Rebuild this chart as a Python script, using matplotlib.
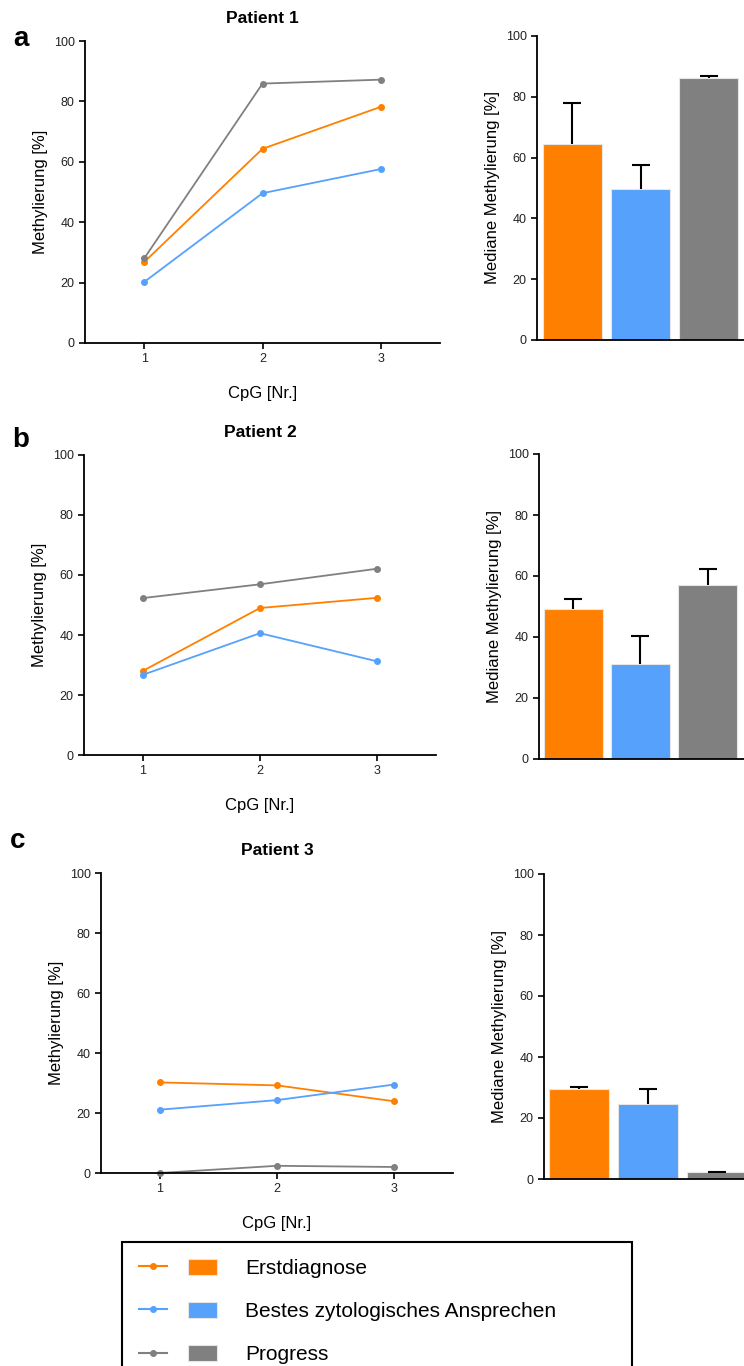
import matplotlib
matplotlib.use("Agg")
import matplotlib.pyplot as plt
from matplotlib.lines import Line2D
from matplotlib.patches import Patch
from matplotlib.legend_handler import HandlerTuple

plt.rcParams['font.family'] = ['Liberation Sans', 'DejaVu Sans']

cpg = [1, 2, 3]
groups = ["Erstdiagnose", "Bestes zytologisches Ansprechen", "Progress"]
colors = ["#FF8000", "#55A1FC", "#808080"]

# CpG-Methylierung [%] je Patient und Zeitpunkt
p1_erst = [26.8, 64.3, 78.2]
p1_best = [20.2, 49.6, 57.6]
p1_prog = [28.0, 85.9, 87.2]
p2_erst = [28.0, 49.0, 52.4]
p2_best = [26.7, 40.6, 31.2]
p2_prog = [52.3, 56.9, 62.1]
p3_erst = [30.2, 29.2, 23.9]
p3_best = [21.1, 24.3, 29.5]
p3_prog = [0.0, 2.4, 2.0]

# Mediane Methylierung und obere Fehlerbalken
p1_median = [64.4, 49.6, 86.1]
p1_upper = [78.1, 57.5, 87.0]
p2_median = [49.2, 31.3, 57.0]
p2_upper = [52.5, 40.4, 62.2]
p3_median = [29.5, 24.6, 2.2]
p3_upper = [30.2, 29.6, 2.4]

titles = ["Patient 1", "Patient 2", "Patient 3"]
letters = ["a", "b", "c"]

W, H = 744, 1366
fig = plt.figure(figsize=(W / 100, H / 100), dpi=100)


def rect(l, r, t, b):
    return [l / W, 1 - b / H, (r - l) / W, (b - t) / H]


def style(ax):
    for s in ["top", "right"]:
        ax.spines[s].set_visible(False)
    for s in ["left", "bottom"]:
        ax.spines[s].set_linewidth(1.3)
    ax.tick_params(width=1.2, length=4, labelsize=9, colors="black",
                   labelcolor="#222222")
    ax.set_ylim(0, 100)
    ax.set_yticks(range(0, 101, 20))


panels = [
    dict(line=(85, 440, 41, 343), bar=(537, 744, 36, 340), letter=(13, 46),
         series=[p1_erst, p1_best, p1_prog], med=p1_median, up=p1_upper,
         xr=(-0.52, 2.52)),
    dict(line=(84, 436, 455, 755), bar=(539, 744, 454, 759), letter=(12, 447),
         series=[p2_erst, p2_best, p2_prog], med=p2_median, up=p2_upper,
         xr=(-0.51, 2.54)),
    dict(line=(101, 453, 873, 1173), bar=(544, 744, 874, 1179), letter=(10, 848),
         series=[p3_erst, p3_best, p3_prog], med=p3_median, up=p3_upper,
         xr=(-0.51, 2.40)),
]

for i, p in enumerate(panels):
    l, r, t, b = p["line"]
    ax = fig.add_axes(rect(l, r, t, b))
    style(ax)
    for vals, c in zip(p["series"], colors):
        ax.plot(cpg, vals, color=c, lw=1.3, marker="o", ms=4, clip_on=False)
    ax.set_xlim(0.5, 3.5)
    ax.set_xticks(cpg)
    ax.set_title(titles[i], fontsize=12.5, fontweight="bold", pad=13)
    ax.set_ylabel("Methylierung [%]", fontsize=12)
    ax.yaxis.set_label_coords(-37 / (r - l), 0.5)
    ax.set_xlabel("CpG [Nr.]", fontsize=12)
    ax.xaxis.set_label_coords(0.5, -43 / (b - t))
    fig.text(p["letter"][0] / W, 1 - p["letter"][1] / H, letters[i],
             fontsize=20, fontweight="bold", ha="left", va="baseline")

    l, r, t, b = p["bar"]
    bx = fig.add_axes(rect(l, r, t, b))
    style(bx)
    xs = range(len(groups))
    err = [[0] * 3, [u - m for u, m in zip(p["up"], p["med"])]]
    bx.bar(xs, p["med"], width=0.87, color=colors, edgecolor="#e6e6e6", lw=0.8)
    _, caps, _ = bx.errorbar(xs, p["med"], yerr=err, fmt="none", ecolor="black",
                             elinewidth=1.5, capsize=6.5, capthick=1.5)
    caps[0].set_visible(False)
    bx.set_xlim(*p["xr"])
    bx.set_xticks([])
    bx.set_ylabel("Mediane Methylierung [%]", fontsize=12)
    bx.yaxis.set_label_coords(-37 / (r - l), 0.5)

handles = []
for c in colors:
    ln = Line2D([], [], color=c, lw=1.5, marker="o", ms=4)
    pt = Patch(facecolor=c, edgecolor="#e6e6e6", lw=0.8)
    handles.append((ln, pt))

top = 1 - 1242 / H
leg = fig.legend(handles, groups, loc="upper left",
                 bbox_to_anchor=(122 / W, top - 0.3, 510 / W, 0.3),
                 mode="expand", borderaxespad=0, fontsize=15,
                 handler_map={tuple: HandlerTuple(ndivide=None, pad=1.0)},
                 handlelength=3.75, handleheight=0.8, handletextpad=1.35,
                 labelspacing=1.15, borderpad=0.8, fancybox=False,
                 edgecolor="black", framealpha=1)
leg.get_frame().set_linewidth(1.5)

fig.savefig("out.png", dpi=100)
